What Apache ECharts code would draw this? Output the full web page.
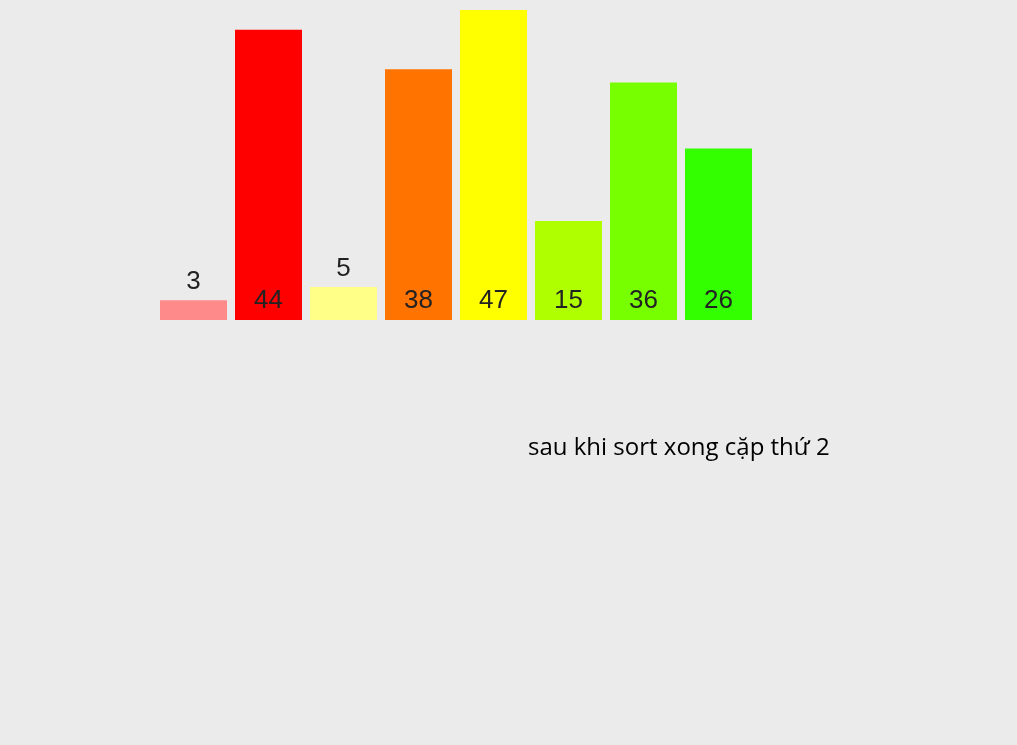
<!DOCTYPE html>
<html>
<head>
<meta charset="utf-8">
<script src="https://cdn.jsdelivr.net/npm/echarts@6/dist/echarts.min.js"></script>
<style>
html,body{margin:0;padding:0;background:#ebebeb;}
#chart{width:1017px;height:745px;}
</style>
</head>
<body>
<div id="chart"></div>
<script>
const categories = ['a','b','c','d','e','f','g','h'];
const values = [3, 44, 5, 38, 47, 15, 36, 26];
const colors = ['#ff8a8a', '#ff0000', '#ffff88', '#ff7300', '#ffff00', '#b0ff00', '#77ff00', '#33ff00'];
const caption = 'sau khi sort xong cặp thứ 2';

const chart = echarts.init(document.getElementById('chart'));
chart.setOption({
  backgroundColor: '#ebebeb',
  animation: false,
  title: {
    text: caption,
    left: 523,
    top: 431,
    textStyle: { fontFamily: 'Open Sans', fontSize: 24, fontWeight: 'normal', color: '#000' }
  },
  grid: { left: 156, top: 10, width: 600, height: 310 },
  xAxis: { type: 'category', data: categories, show: false },
  yAxis: { type: 'value', min: 0, max: 47, show: false, splitLine: { show: false } },
  series: [{
    type: 'bar',
    barWidth: 67,
    data: values.map((v, i) => ({
      value: v,
      itemStyle: { color: colors[i] },
      label: v < 10
        ? { show: true, position: 'top', distance: 5 }
        : { show: true, position: 'insideBottom', distance: 6 }
    })),
    label: {
      show: true,
      fontFamily: 'Liberation Sans',
      fontSize: 26,
      fontWeight: 500,
      color: '#222'
    }
  }]
});
</script>
</body>
</html>
